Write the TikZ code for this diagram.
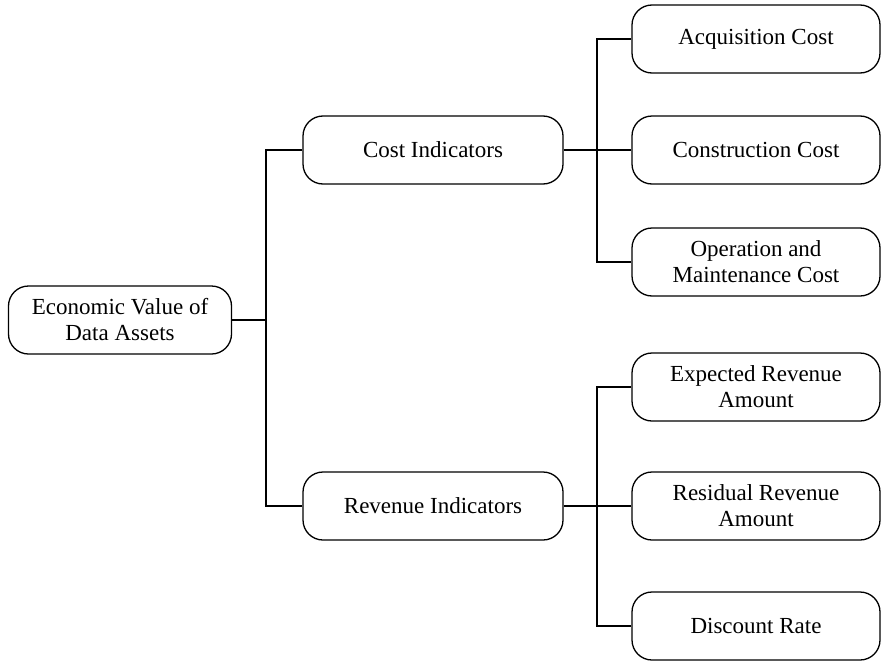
\documentclass[tikz,border=0pt]{standalone}
\usepackage{fontspec}
\setmainfont{Liberation Serif}

\begin{document}
\begin{tikzpicture}[x=1pt, y=-1pt, line width=1.3pt,
  every node/.style={draw, rounded corners=20pt, align=center, inner sep=0pt, minimum height=68pt, font=\fontsize{23}{26}\selectfont}]
\useasboundingbox (0,0) rectangle (882,661);
\node[minimum width=223pt] (L0N0) at (120,320) {Economic Value of\\Data Assets};
\node[minimum width=260pt] (L1N0) at (433,150) {Cost Indicators};
\node[minimum width=260pt] (L1N1) at (433,506) {Revenue Indicators};
\node[minimum width=248pt] (L2N0) at (756,39) {Acquisition Cost};
\node[minimum width=248pt] (L2N1) at (756,150) {Construction Cost};
\node[minimum width=248pt] (L2N2) at (756,262) {Operation and\\Maintenance Cost};
\node[minimum width=248pt] (L2N3) at (756,387) {Expected Revenue\\Amount};
\node[minimum width=248pt] (L2N4) at (756,506) {Residual Revenue\\Amount};
\node[minimum width=248pt] (L2N5) at (756,626) {Discount Rate};
\coordinate (J0) at (266,320);
\coordinate (J1) at (597,150);
\coordinate (J2) at (597,506);
\draw (L0N0) -- (J0);
\draw (J0) |- (L1N0);
\draw (J0) |- (L1N1);
\draw (L1N0) -- (J1);
\draw (J1) |- (L2N0);
\draw (J1) -- (L2N1);
\draw (J1) |- (L2N2);
\draw (L1N1) -- (J2);
\draw (J2) |- (L2N3);
\draw (J2) -- (L2N4);
\draw (J2) |- (L2N5);
\end{tikzpicture}
\end{document}
